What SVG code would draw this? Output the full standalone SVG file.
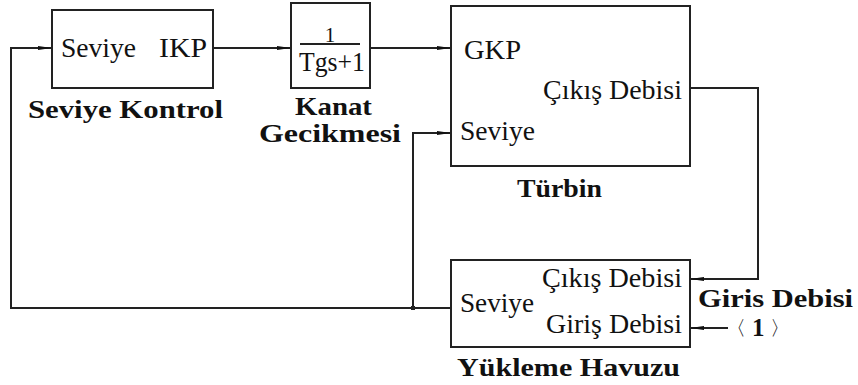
<svg xmlns="http://www.w3.org/2000/svg" width="858" height="385" viewBox="0 0 858 385">
<style>
.box{fill:#fff;stroke:#222;stroke-width:2}
.ln{fill:none;stroke:#222;stroke-width:2}
text{font-family:'Liberation Serif','DejaVu Serif','Times New Roman',serif;fill:#111}
.t{font-size:28px}
.b{font-size:25px;font-weight:bold}
</style>
<defs>
<marker id="ah" markerUnits="userSpaceOnUse" markerWidth="14" markerHeight="6" refX="14" refY="3" orient="auto">
<path d="M0,1 L14,3 L0,5 Z" fill="#111"/>
</marker>
</defs>
<rect width="858" height="385" fill="#fff"/>
<g id="connectors">
<path class="ln" d="M213,48 H291" marker-end="url(#ah)"/>
<path class="ln" d="M370,48 H451" marker-end="url(#ah)"/>
<path class="ln" d="M690,88 H758 V279 H690" marker-end="url(#ah)"/>
<path class="ln" d="M728,328 H690" marker-end="url(#ah)"/>
<path class="ln" d="M451,308 H11 V48 H52" marker-end="url(#ah)"/>
<path class="ln" d="M413,308 V133 H451" marker-end="url(#ah)"/>
<rect x="411" y="306" width="4" height="4" fill="#222"/>
</g>
<g id="seviye-kontrol">
<rect class="box" x="52" y="10" width="161" height="78"/>
<text class="t" x="61" y="57" textLength="75" lengthAdjust="spacingAndGlyphs">Seviye</text>
<text class="t" x="159" y="57" textLength="48" lengthAdjust="spacingAndGlyphs">IKP</text>
<text class="b" x="28" y="118" textLength="195" lengthAdjust="spacingAndGlyphs">Seviye Kontrol</text>
</g>
<g id="kanat-gecikmesi">
<rect class="box" x="291" y="3" width="79" height="85"/>
<text x="330" y="42" text-anchor="middle" style="font-size:21px">1</text>
<line class="ln" x1="300" y1="44" x2="360" y2="44"/>
<text class="t" x="299" y="71" textLength="66" lengthAdjust="spacingAndGlyphs">Tgs+1</text>
<text class="b" x="295" y="115" textLength="77" lengthAdjust="spacingAndGlyphs">Kanat</text>
<text class="b" x="259" y="142" textLength="142" lengthAdjust="spacingAndGlyphs">Gecikmesi</text>
</g>
<g id="turbin">
<rect class="box" x="451" y="6" width="239" height="160"/>
<text class="t" x="464" y="59" textLength="57" lengthAdjust="spacingAndGlyphs">GKP</text>
<text class="t" x="543" y="99" textLength="139" lengthAdjust="spacingAndGlyphs">Çıkış Debisi</text>
<text class="t" x="460" y="140" textLength="75" lengthAdjust="spacingAndGlyphs">Seviye</text>
<text class="b" x="517" y="197" textLength="85" lengthAdjust="spacingAndGlyphs">Türbin</text>
</g>
<g id="yukleme-havuzu">
<rect class="box" x="451" y="260" width="239" height="87"/>
<text class="t" x="542" y="287" textLength="140" lengthAdjust="spacingAndGlyphs">Çıkış Debisi</text>
<text class="t" x="460" y="312" textLength="74" lengthAdjust="spacingAndGlyphs">Seviye</text>
<text class="t" x="546" y="333" textLength="136" lengthAdjust="spacingAndGlyphs">Giriş Debisi</text>
<text class="b" x="457" y="376" textLength="223" lengthAdjust="spacingAndGlyphs">Yükleme Havuzu</text>
</g>
<g id="giris-debisi">
<text class="b" x="698" y="307" textLength="155" lengthAdjust="spacingAndGlyphs">Giris Debisi</text>
<text x="726" y="335" style="font-size:20px">〈</text>
<text class="b" x="752" y="336">1</text>
<text x="770" y="335" style="font-size:20px">〉</text>
</g>
</svg>
